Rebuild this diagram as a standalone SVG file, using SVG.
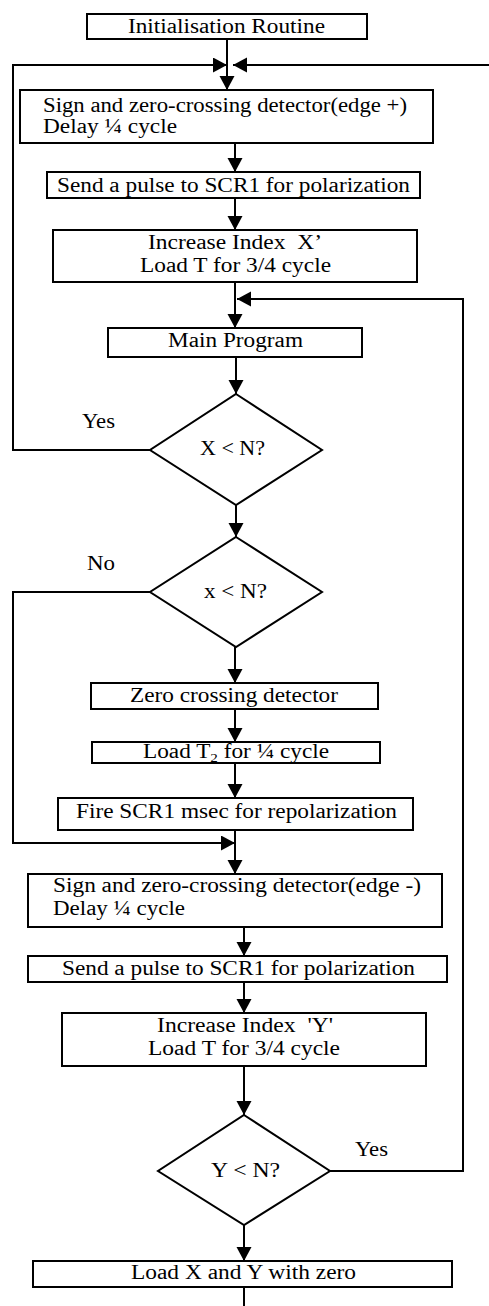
<svg xmlns="http://www.w3.org/2000/svg" width="489" height="1306" viewBox="0 0 489 1306">
<style>
.b{fill:#fff;stroke:#000;stroke-width:2}
.t{font-family:"Liberation Serif","Times New Roman",serif;font-size:20px;fill:#000}
.c{fill:none;stroke:#000;stroke-width:2}
</style>
<defs>
<marker id="ah" markerUnits="userSpaceOnUse" markerWidth="16" markerHeight="16" refX="14" refY="7.5" orient="auto">
<path d="M0,0 L14,7.5 L0,15 z" fill="#000"/>
</marker>
</defs>
<rect width="489" height="1306" fill="#fff"/>
<g id="connectors">
<line class="c" x1="227" y1="39" x2="227" y2="90" marker-end="url(#ah)"/>
<polyline class="c" points="150,450 13,450 13,65 227,65" marker-end="url(#ah)"/>
<line class="c" x1="489" y1="65" x2="233" y2="65" marker-end="url(#ah)"/>
<line class="c" x1="235" y1="143" x2="235" y2="172" marker-end="url(#ah)"/>
<line class="c" x1="235" y1="198" x2="235" y2="230" marker-end="url(#ah)"/>
<line class="c" x1="235" y1="282" x2="235" y2="328" marker-end="url(#ah)"/>
<polyline class="c" points="330,1171 463,1171 463,299 237,299" marker-end="url(#ah)"/>
<line class="c" x1="236" y1="357" x2="236" y2="394" marker-end="url(#ah)"/>
<line class="c" x1="236" y1="505" x2="236" y2="537" marker-end="url(#ah)"/>
<polyline class="c" points="150,592 13,592 13,843 235,843" marker-end="url(#ah)"/>
<line class="c" x1="235" y1="647" x2="235" y2="683" marker-end="url(#ah)"/>
<line class="c" x1="235" y1="709" x2="235" y2="742" marker-end="url(#ah)"/>
<line class="c" x1="235" y1="763" x2="235" y2="798" marker-end="url(#ah)"/>
<line class="c" x1="235" y1="830" x2="235" y2="874" marker-end="url(#ah)"/>
<line class="c" x1="244" y1="927" x2="244" y2="956" marker-end="url(#ah)"/>
<line class="c" x1="244" y1="982" x2="244" y2="1013" marker-end="url(#ah)"/>
<line class="c" x1="244" y1="1066" x2="244" y2="1115" marker-end="url(#ah)"/>
<line class="c" x1="244" y1="1225" x2="244" y2="1261" marker-end="url(#ah)"/>
<line class="c" x1="244" y1="1287" x2="244" y2="1306"/>
</g>
<g id="init">
<rect class="b" x="87" y="14" width="280" height="25"/>
<text class="t" x="128" y="33" textLength="197" lengthAdjust="spacingAndGlyphs">Initialisation Routine</text>
</g>
<g id="detect-pos">
<rect class="b" x="20" y="90" width="413" height="53"/>
<text class="t" x="43" y="112" textLength="364" lengthAdjust="spacingAndGlyphs">Sign and zero-crossing detector(edge +)</text>
<text class="t" x="43" y="133" textLength="134" lengthAdjust="spacingAndGlyphs">Delay ¼ cycle</text>
</g>
<g id="pulse1">
<rect class="b" x="47" y="172" width="373" height="26"/>
<text class="t" x="57" y="192" textLength="353" lengthAdjust="spacingAndGlyphs">Send a pulse to SCR1 for polarization</text>
</g>
<g id="incX">
<rect class="b" x="53" y="230" width="364" height="52"/>
<text class="t" x="148" y="249" textLength="174" lengthAdjust="spacingAndGlyphs" xml:space="preserve">Increase Index  X’</text>
<text class="t" x="140" y="272" textLength="191" lengthAdjust="spacingAndGlyphs">Load T for 3/4 cycle</text>
</g>
<g id="main">
<rect class="b" x="108" y="328" width="254" height="29"/>
<text class="t" x="168" y="347" textLength="135" lengthAdjust="spacingAndGlyphs">Main Program</text>
</g>
<g id="dec1">
<polygon class="b" points="236,394 322,450 236,505 150,450"/>
<text class="t" x="200" y="455" textLength="65" lengthAdjust="spacingAndGlyphs">X &lt; N?</text>
<text class="t" x="82" y="428" textLength="33" lengthAdjust="spacingAndGlyphs">Yes</text>
</g>
<g id="dec2">
<polygon class="b" points="236,537 322,592 236,647 150,592"/>
<text class="t" x="204" y="598" textLength="63" lengthAdjust="spacingAndGlyphs">x &lt; N?</text>
<text class="t" x="87" y="570" textLength="28" lengthAdjust="spacingAndGlyphs">No</text>
</g>
<g id="zcd">
<rect class="b" x="91" y="683" width="287" height="26"/>
<text class="t" x="130" y="702" textLength="208" lengthAdjust="spacingAndGlyphs">Zero crossing detector</text>
</g>
<g id="loadT2">
<rect class="b" x="92" y="742" width="288" height="21"/>
<text class="t" x="143" y="758" textLength="186" lengthAdjust="spacingAndGlyphs">Load T<tspan font-size="13" dy="4">2</tspan><tspan dy="-4"> for ¼ cycle</tspan></text>
</g>
<g id="fire">
<rect class="b" x="58" y="798" width="355" height="32"/>
<text class="t" x="76" y="818" textLength="321" lengthAdjust="spacingAndGlyphs">Fire SCR1 msec for repolarization</text>
</g>
<g id="detect-neg">
<rect class="b" x="28" y="874" width="414" height="53"/>
<text class="t" x="53" y="892" textLength="368" lengthAdjust="spacingAndGlyphs">Sign and zero-crossing detector(edge -)</text>
<text class="t" x="53" y="915" textLength="132" lengthAdjust="spacingAndGlyphs">Delay ¼ cycle</text>
</g>
<g id="pulse2">
<rect class="b" x="28" y="956" width="419" height="26"/>
<text class="t" x="62" y="975" textLength="353" lengthAdjust="spacingAndGlyphs">Send a pulse to SCR1 for polarization</text>
</g>
<g id="incY">
<rect class="b" x="62" y="1013" width="364" height="53"/>
<text class="t" x="157" y="1032" textLength="176" lengthAdjust="spacingAndGlyphs" xml:space="preserve">Increase Index  'Y'</text>
<text class="t" x="148" y="1055" textLength="192" lengthAdjust="spacingAndGlyphs">Load T for 3/4 cycle</text>
</g>
<g id="dec3">
<polygon class="b" points="244,1115 330,1171 244,1225 158,1171"/>
<text class="t" x="211" y="1177" textLength="69" lengthAdjust="spacingAndGlyphs">Y &lt; N?</text>
<text class="t" x="355" y="1156" textLength="33" lengthAdjust="spacingAndGlyphs">Yes</text>
</g>
<g id="reset">
<rect class="b" x="33" y="1261" width="419" height="26"/>
<text class="t" x="131" y="1279" textLength="225" lengthAdjust="spacingAndGlyphs">Load X and Y with zero</text>
</g>
</svg>
